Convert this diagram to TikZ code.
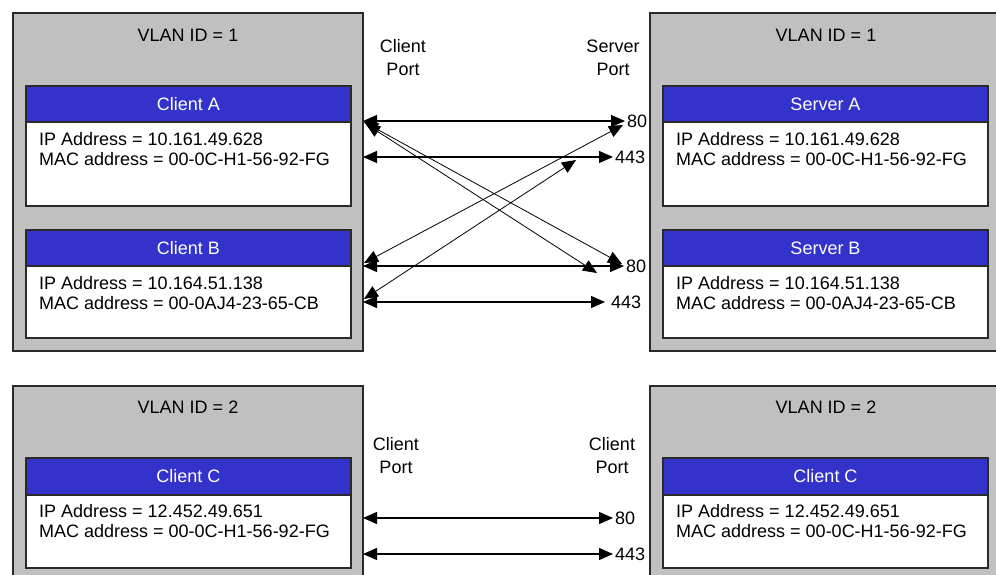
\documentclass[tikz,border=0pt]{standalone}
\usepackage{fontspec}
\setmainfont{Liberation Sans}
\usetikzlibrary{arrows.meta}
\definecolor{vgray}{HTML}{C0C0C0}
\definecolor{vblue}{HTML}{3333CC}
\definecolor{vline}{HTML}{2A2A2A}
\begin{document}
\begin{tikzpicture}[x=1pt,y=-1pt,
  every node/.style={font=\fontsize{18}{23}\selectfont},
  vlan/.style={draw=vline,line width=1.5pt,fill=vgray,inner sep=0pt,outer sep=0pt,anchor=north west,minimum width=350pt},
  hostbox/.style={draw=vline,line width=1.5pt,fill=white,inner sep=0pt,outer sep=0pt,anchor=north west,minimum width=325pt},
  band/.style={draw=vline,line width=1.5pt,fill=vblue,text=white,inner sep=0pt,outer sep=0pt,anchor=north west,minimum width=325pt,minimum height=36pt},
  info/.style={anchor=west,inner sep=0pt},
  port/.style={anchor=west,inner ysep=0pt,inner xsep=2pt},
  plabel/.style={align=center,inner sep=0pt},
  conn/.style={{Triangle[length=14pt,width=12pt]}-{Triangle[length=14pt,width=12pt]},line width=1.3pt,draw=black},
  diag/.style={{Triangle[length=14pt,width=12pt]}-{Triangle[length=14pt,width=12pt]},line width=0.8pt,draw=black}
]
\useasboundingbox (0,0) rectangle (996,575);
\clip (0,0) rectangle (996,575);

% ---------- VLAN 1 (clients) ----------
\node[vlan,minimum height=338pt] (v1c) at (13,13) {};
\node (v1ct) at (188,35) {VLAN ID = 1};
\node[hostbox,minimum height=120pt] (cA) at (26,86) {};
\node[band] (cAh) at (26,86) {Client A};
\node[info] (cAip) at (39,139) {IP Address = 10.161.49.628};
\node[info] (cAmac) at (39,159) {MAC address = 00-0C-H1-56-92-FG};
\node[hostbox,minimum height=108pt] (cB) at (26,230) {};
\node[band] (cBh) at (26,230) {Client B};
\node[info] (cBip) at (39,283) {IP Address = 10.164.51.138};
\node[info] (cBmac) at (39,303) {MAC address = 00-0AJ4-23-65-CB};

% ---------- VLAN 1 (servers) ----------
\node[vlan,minimum width=352pt,minimum height=338pt] (v1s) at (650,13) {};
\node (v1st) at (826,35) {VLAN ID = 1};
\node[hostbox,minimum height=120pt] (sA) at (663,86) {};
\node[band] (sAh) at (663,86) {Server A};
\node[info] (sAip) at (676,139) {IP Address = 10.161.49.628};
\node[info] (sAmac) at (676,159) {MAC address = 00-0C-H1-56-92-FG};
\node[hostbox,minimum height=108pt] (sB) at (663,230) {};
\node[band] (sBh) at (663,230) {Server B};
\node[info] (sBip) at (676,283) {IP Address = 10.164.51.138};
\node[info] (sBmac) at (676,303) {MAC address = 00-0AJ4-23-65-CB};

% ---------- VLAN 2 ----------
\node[vlan,minimum height=220pt] (v2c) at (13,386) {};
\node (v2ct) at (188,407) {VLAN ID = 2};
\node[hostbox,minimum height=110pt] (cC) at (26,458) {};
\node[band,minimum height=37pt] (cCh) at (26,458) {Client C};
\node[info] (cCip) at (39,511) {IP Address = 12.452.49.651};
\node[info] (cCmac) at (39,531) {MAC address = 00-0C-H1-56-92-FG};

\node[vlan,minimum width=352pt,minimum height=220pt] (v2s) at (650,386) {};
\node (v2st) at (826,407) {VLAN ID = 2};
\node[hostbox,minimum height=110pt] (dC) at (663,458) {};
\node[band,minimum height=37pt] (dCh) at (663,458) {Client C};
\node[info] (dCip) at (676,511) {IP Address = 12.452.49.651};
\node[info] (dCmac) at (676,531) {MAC address = 00-0C-H1-56-92-FG};

% ---------- port headings ----------
\node[plabel] (cpt1) at (403,58) {Client\\Port};
\node[plabel] (spt1) at (613,58) {Server\\Port};
\node[plabel] (cpt2) at (396,456) {Client\\Port};
\node[plabel] (cpt3) at (612,456) {Client\\Port};

% ---------- port numbers ----------
\node[port] (pA80) at (625,121) {80};
\node[port] (pA443) at (613,157) {443};
\node[port] (pB80) at (624,266) {80};
\node[port,inner xsep=6pt] (pB443) at (605,302) {443};
\node[port] (pC80) at (613,518) {80};
\node[port] (pC443) at (613,554) {443};

% ---------- left ends ----------
\coordinate (lA80) at (363,121);
\coordinate (lA443) at (363,157);
\coordinate (lB80) at (363,266);
\coordinate (lB443) at (363,302);
\coordinate (lAd1) at (364,122);
\coordinate (lAd2) at (366,124);
\coordinate (lBd1) at (364,263);
\coordinate (lBd2) at (364,299);
\coordinate (lC80) at (363,518);
\coordinate (lC443) at (363,554);
% diagonal right ends
\coordinate (rB80) at (622,264);
\coordinate (rB443) at (597,273);
\coordinate (rA80) at (623,125);
\coordinate (rA443) at (576,160);

% ---------- connectors ----------
\draw[conn] (lA80) -- (pA80.west);
\draw[conn] (lA443) -- (pA443.west);
\draw[conn] (lB80) -- (pB80.west);
\draw[conn] (lB443) -- (pB443.west);
\draw[diag] (lAd1) -- (rB80);
\draw[diag] (lAd2) -- (rB443);
\draw[diag] (lBd1) -- (rA80);
\draw[diag] (lBd2) -- (rA443);
\draw[conn] (lC80) -- (pC80.west);
\draw[conn] (lC443) -- (pC443.west);
\end{tikzpicture}
\end{document}
